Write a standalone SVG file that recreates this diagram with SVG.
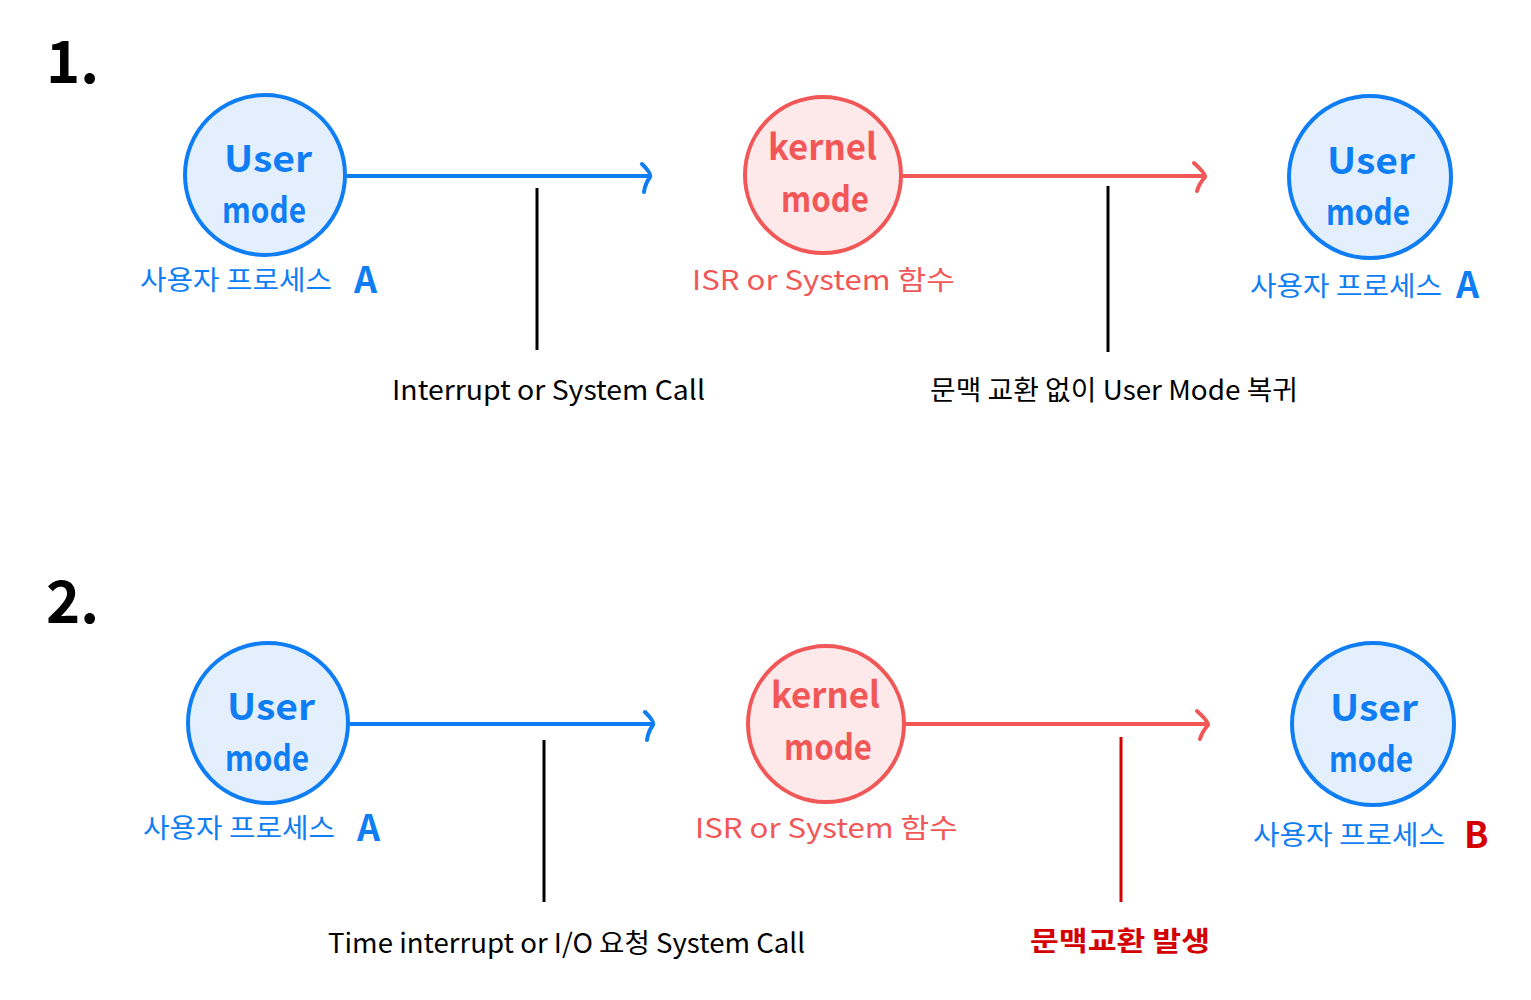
<svg xmlns="http://www.w3.org/2000/svg" width="1531" height="1000" viewBox="0 0 1531 1000">
<defs>
<style>
text{font-family:"Noto Sans CJK KR","Noto Sans",sans-serif;}
.ucirc{fill:#e4effd;stroke:#0f7ef4;stroke-width:4;}
.kcirc{fill:#fde9e9;stroke:#f25757;stroke-width:4;}
.ut{fill:#0f7ef4;font-size:36px;font-weight:bold;}
.kt{fill:#f25757;font-size:36px;font-weight:bold;}
.ul{fill:#0f7ef4;font-size:27px;}
.kl{fill:#f25757;font-size:27px;}
.bl{fill:#000;font-size:27px;}
.dr{fill:#d40000;}
.big{font-weight:bold;font-size:36px;}
.num{fill:#000;font-size:58px;font-weight:bold;}
.ba{stroke:#0f7ef4;stroke-width:4;fill:none;stroke-linecap:round;stroke-linejoin:round;}
.ra{stroke:#f25757;stroke-width:4;fill:none;stroke-linecap:round;stroke-linejoin:round;}
.vl{stroke:#000;stroke-width:3;}
.vr{stroke:#d40000;stroke-width:3;}
</style>
</defs>
<rect width="1531" height="1000" fill="#fff"/>

<text class="num" x="46" y="83">1.</text>
<text class="num" x="46" y="623">2.</text>

<g id="connectors">
<path class="ba" d="M347 176 H650 M642 164 Q652 174 650 177 Q645 184 644 192"/>
<path class="ra" d="M903 176 H1205 M1194 163 Q1206 174 1205 177 Q1199 184 1197 191"/>
<line class="vl" x1="537" y1="188" x2="537" y2="350"/>
<line class="vl" x1="1108" y1="186" x2="1108" y2="352"/>
<path class="ba" d="M350 724 H653 M645 712 Q655 722 653 725 Q648 732 647 740"/>
<path class="ra" d="M906 724 H1208 M1197 711 Q1209 722 1208 725 Q1202 732 1200 739"/>
<line class="vl" x1="544" y1="740" x2="544" y2="902"/>
<line class="vr" x1="1121" y1="737" x2="1121" y2="902"/>
</g>

<g id="u1">
<circle class="ucirc" cx="265" cy="175" r="80"/>
<text class="ut" x="224" y="172" textLength="88" lengthAdjust="spacingAndGlyphs">User</text>
<text class="ut" x="222" y="223" textLength="84" lengthAdjust="spacingAndGlyphs">mode</text>
<text class="ul" x="140" y="290" textLength="192" lengthAdjust="spacingAndGlyphs">사용자 프로세스</text>
<text class="ul big" x="354" y="293">A</text>
</g>
<g id="k1">
<circle class="kcirc" cx="823" cy="175" r="78"/>
<text class="kt" x="768" y="160" textLength="109" lengthAdjust="spacingAndGlyphs">kernel</text>
<text class="kt" x="781" y="212" textLength="88" lengthAdjust="spacingAndGlyphs">mode</text>
<text class="kl" x="692" y="290" textLength="263" lengthAdjust="spacingAndGlyphs">ISR or System 함수</text>
</g>
<g id="u2">
<circle class="ucirc" cx="1370" cy="177" r="81"/>
<text class="ut" x="1327" y="174" textLength="88" lengthAdjust="spacingAndGlyphs">User</text>
<text class="ut" x="1326" y="225" textLength="84" lengthAdjust="spacingAndGlyphs">mode</text>
<text class="ul" x="1250" y="296" textLength="192" lengthAdjust="spacingAndGlyphs">사용자 프로세스</text>
<text class="ul big" x="1456" y="298">A</text>
</g>
<text class="bl" x="392" y="400" textLength="313" lengthAdjust="spacingAndGlyphs">Interrupt or System Call</text>
<text class="bl" x="930" y="400" textLength="368" lengthAdjust="spacingAndGlyphs">문맥 교환 없이 User Mode 복귀</text>

<g id="u3">
<circle class="ucirc" cx="268" cy="723" r="80"/>
<text class="ut" x="227" y="720" textLength="88" lengthAdjust="spacingAndGlyphs">User</text>
<text class="ut" x="225" y="771" textLength="84" lengthAdjust="spacingAndGlyphs">mode</text>
<text class="ul" x="143" y="838" textLength="192" lengthAdjust="spacingAndGlyphs">사용자 프로세스</text>
<text class="ul big" x="357" y="841">A</text>
</g>
<g id="k2">
<circle class="kcirc" cx="826" cy="724" r="78"/>
<text class="kt" x="771" y="708" textLength="109" lengthAdjust="spacingAndGlyphs">kernel</text>
<text class="kt" x="784" y="760" textLength="88" lengthAdjust="spacingAndGlyphs">mode</text>
<text class="kl" x="695" y="838" textLength="263" lengthAdjust="spacingAndGlyphs">ISR or System 함수</text>
</g>
<g id="u4">
<circle class="ucirc" cx="1373" cy="724" r="81"/>
<text class="ut" x="1330" y="721" textLength="88" lengthAdjust="spacingAndGlyphs">User</text>
<text class="ut" x="1329" y="772" textLength="84" lengthAdjust="spacingAndGlyphs">mode</text>
<text class="ul" x="1253" y="845" textLength="192" lengthAdjust="spacingAndGlyphs">사용자 프로세스</text>
<text class="ul big dr" x="1464" y="848">B</text>
</g>
<text class="bl" x="328" y="953" textLength="477" lengthAdjust="spacingAndGlyphs">Time interrupt or I/O 요청 System Call</text>
<text class="bl dr" x="1030" y="951" textLength="180" lengthAdjust="spacingAndGlyphs" font-weight="bold">문맥교환 발생</text>
</svg>
